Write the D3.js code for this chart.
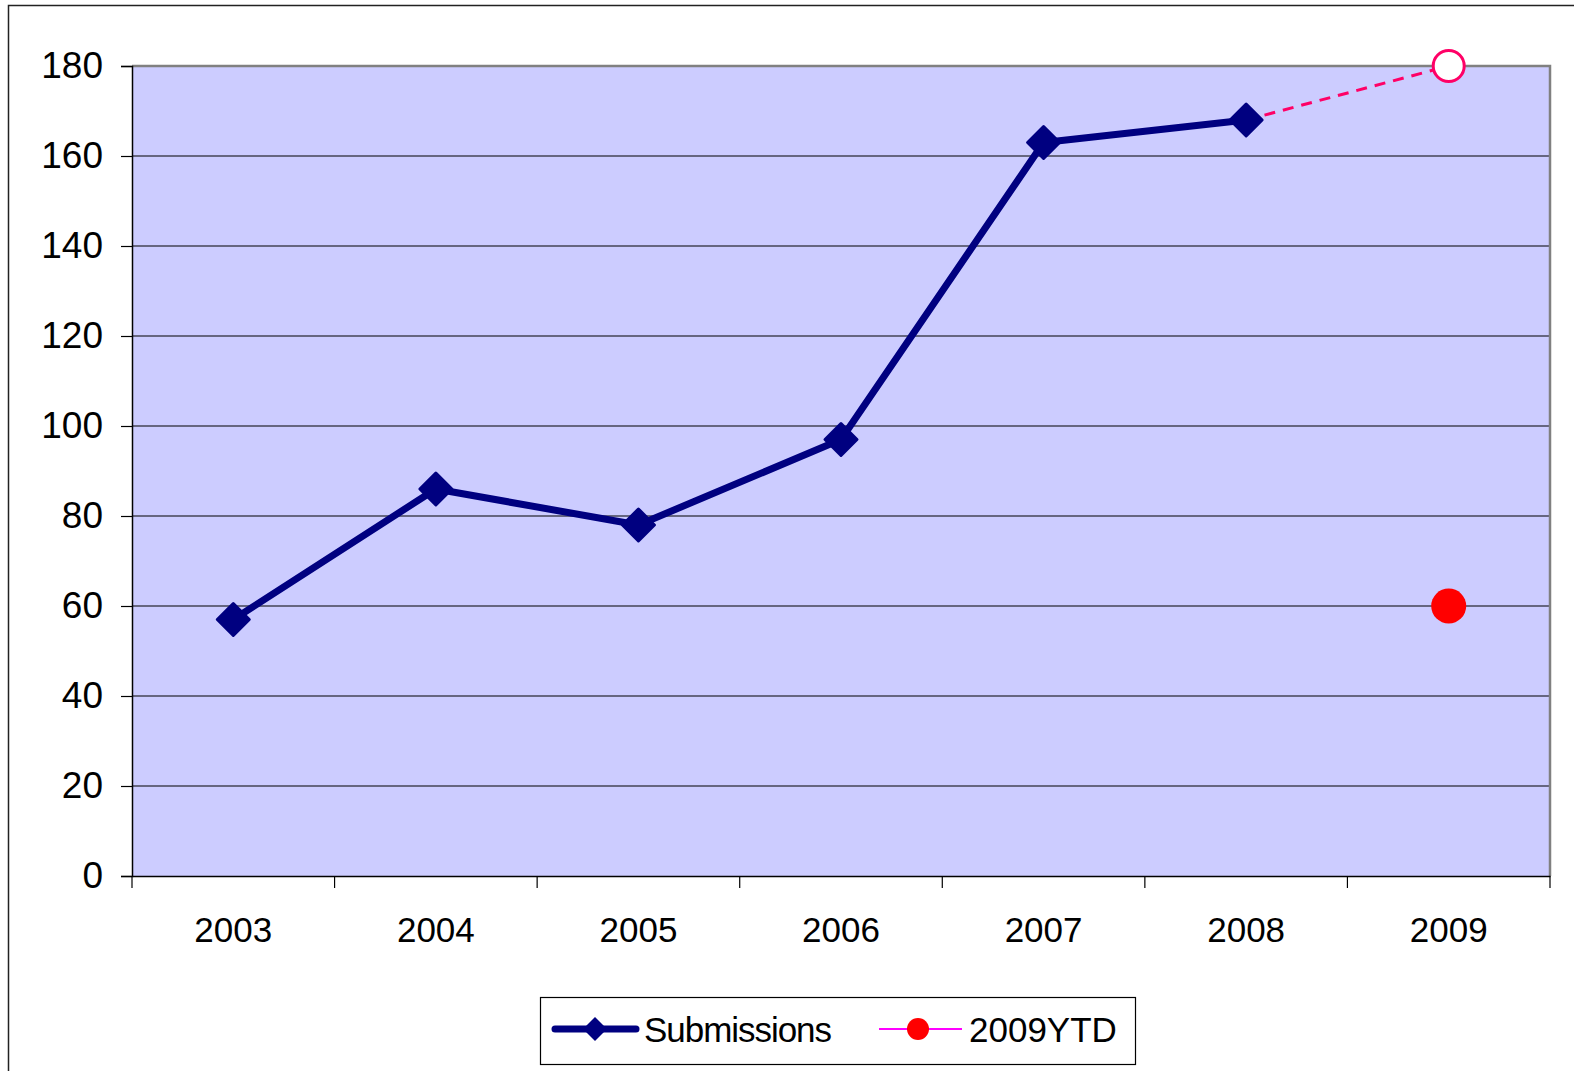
<!DOCTYPE html>
<html>
<head>
<meta charset="utf-8">
<script src="https://cdn.jsdelivr.net/npm/d3@7"></script>
<style>
  body { margin: 0; background: #fff; }
  svg { display: block; }
</style>
</head>
<body>
<script>
// data
var years = ['2003', '2004', '2005', '2006', '2007', '2008', '2009'];
var submissions = [57, 86, 78, 97, 163, 168];
var projYears = ['2008', '2009'];
var projValues = [168, 180];
var ytdYears = ['2009'];
var ytdValues = [60];
var yTicks = [0, 20, 40, 60, 80, 100, 120, 140, 160, 180];

var W = 1574, H = 1071;
var plot = {left: 132, top: 66, right: 1550, bottom: 876};
var font = "Arial, 'Liberation Sans', sans-serif";

var svg = d3.select('body').append('svg')
    .attr('width', W)
    .attr('height', H);

// outer chart frame (runs off the right and bottom edges)
svg.append('rect')
    .attr('x', 8.5).attr('y', 5.5)
    .attr('width', W + 20).attr('height', H + 20)
    .attr('fill', 'none')
    .attr('stroke', '#222')
    .attr('stroke-width', 1.5);

var x = d3.scaleBand().domain(years).range([plot.left, plot.right]).padding(0);
var y = d3.scaleLinear().domain([0, 180]).range([plot.bottom, plot.top]);

// plot area
svg.append('rect')
    .attr('x', plot.left).attr('y', plot.top)
    .attr('width', plot.right - plot.left)
    .attr('height', plot.bottom - plot.top)
    .attr('fill', '#CCCCFF');

// gridlines
svg.append('g')
    .selectAll('line')
    .data(yTicks.filter(function(d){ return d > 0 && d < 180; }))
    .enter()
    .append('line')
    .attr('x1', plot.left).attr('x2', plot.right)
    .attr('y1', function(d){ return y(d); })
    .attr('y2', function(d){ return y(d); })
    .attr('stroke', '#000')
    .attr('stroke-width', 1);

// plot border top + right in grey
svg.append('path')
    .attr('d', 'M' + plot.left + ',' + plot.top + 'H' + plot.right + 'V' + plot.bottom)
    .attr('fill', 'none')
    .attr('stroke', '#808080')
    .attr('stroke-width', 2.5);

// y axis
var yAxis = svg.append('g')
    .attr('transform', 'translate(' + plot.left + ',0)')
    .call(d3.axisLeft(y).tickValues(yTicks).tickSize(11).tickPadding(18));
yAxis.select('.domain').attr('stroke', '#000').attr('stroke-width', 1.5);
yAxis.selectAll('.tick line').attr('stroke', '#000').attr('stroke-width', 1.2);
yAxis.selectAll('text')
    .attr('font-family', font)
    .attr('font-size', 37)
    .attr('dy', '0.3em')
    .attr('fill', '#000');

// x axis (labels at band centres)
var xAxis = svg.append('g')
    .attr('transform', 'translate(0,' + plot.bottom + ')')
    .call(d3.axisBottom(x).tickSize(0).tickPadding(41));
xAxis.select('.domain').attr('stroke', '#000').attr('stroke-width', 1.5);
xAxis.selectAll('text')
    .attr('font-family', font)
    .attr('font-size', 35)
    .attr('fill', '#000');

// x tick marks at band boundaries
var bounds = years.map(function(d){ return x(d); }).concat([plot.right]);
svg.append('g')
    .selectAll('line')
    .data(bounds)
    .enter()
    .append('line')
    .attr('x1', function(d){ return d; })
    .attr('x2', function(d){ return d; })
    .attr('y1', plot.bottom)
    .attr('y2', plot.bottom + 12)
    .attr('stroke', '#000')
    .attr('stroke-width', 1.2);

var cx = function(yr){ return x(yr) + x.bandwidth() / 2; };

// projection dashed line
var proj = projYears.map(function(d, i){ return [cx(d), y(projValues[i])]; });
svg.append('path')
    .attr('d', d3.line()(proj))
    .attr('fill', 'none')
    .attr('stroke', '#FF0066')
    .attr('stroke-width', 3)
    .attr('stroke-dasharray', '11,8');

svg.append('circle')
    .attr('cx', proj[1][0]).attr('cy', proj[1][1])
    .attr('r', 15.5)
    .attr('fill', '#fff')
    .attr('stroke', '#FF0066')
    .attr('stroke-width', 3);

// submissions line
var subPts = submissions.map(function(d, i){ return [cx(years[i]), y(d)]; });
svg.append('path')
    .attr('d', d3.line()(subPts))
    .attr('fill', 'none')
    .attr('stroke', '#000080')
    .attr('stroke-width', 7)
    .attr('stroke-linejoin', 'round');

var diamond = function(s){
    return 'M0,' + (-s) + 'L' + s + ',0L0,' + s + 'L' + (-s) + ',0Z';
};
svg.append('g')
    .selectAll('path')
    .data(subPts)
    .enter()
    .append('path')
    .attr('transform', function(d){ return 'translate(' + d[0] + ',' + d[1] + ')'; })
    .attr('d', diamond(16))
    .attr('fill', '#000080')
    .attr('stroke', '#000080')
    .attr('stroke-width', 3)
    .attr('stroke-linejoin', 'round');

// 2009 YTD
svg.append('g')
    .selectAll('circle')
    .data(ytdValues)
    .enter()
    .append('circle')
    .attr('cx', function(d, i){ return cx(ytdYears[i]); })
    .attr('cy', function(d){ return y(d); })
    .attr('r', 17.5)
    .attr('fill', '#FF0000');

// legend
var lg = svg.append('g');
lg.append('rect')
    .attr('x', 540.5).attr('y', 997.5)
    .attr('width', 595).attr('height', 67)
    .attr('fill', '#fff')
    .attr('stroke', '#000')
    .attr('stroke-width', 1.2);
var ly = 1029;
lg.append('line')
    .attr('x1', 555).attr('x2', 636)
    .attr('y1', ly).attr('y2', ly)
    .attr('stroke', '#000080')
    .attr('stroke-width', 7)
    .attr('stroke-linecap', 'round');
lg.append('path')
    .attr('transform', 'translate(595,' + ly + ')')
    .attr('d', diamond(12))
    .attr('fill', '#000080');
lg.append('text')
    .attr('x', 644).attr('y', ly)
    .attr('dy', '0.36em')
    .attr('font-family', font)
    .attr('font-size', 35)
    .attr('textLength', 188)
    .attr('lengthAdjust', 'spacing')
    .text('Submissions');
lg.append('line')
    .attr('x1', 879).attr('x2', 962)
    .attr('y1', ly).attr('y2', ly)
    .attr('stroke', '#FF00FF')
    .attr('stroke-width', 2);
lg.append('circle')
    .attr('cx', 918).attr('cy', ly)
    .attr('r', 11)
    .attr('fill', '#FF0000');
lg.append('text')
    .attr('x', 969).attr('y', ly)
    .attr('dy', '0.36em')
    .attr('font-family', font)
    .attr('font-size', 35)
    .text('2009YTD');
</script>
</body>
</html>
